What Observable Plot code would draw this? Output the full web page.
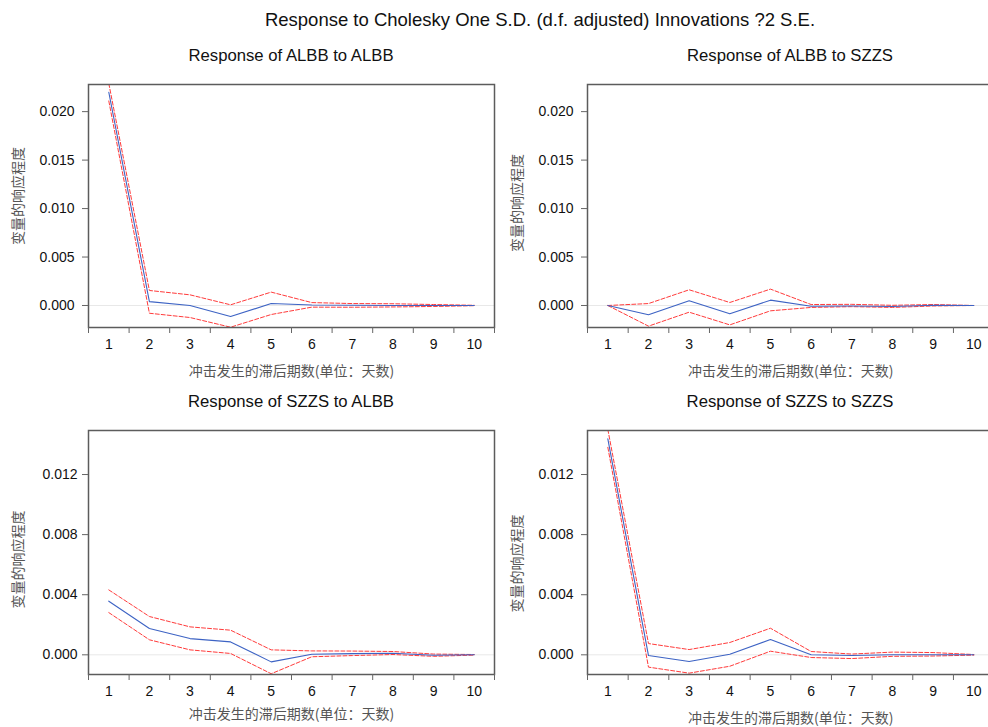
<!DOCTYPE html>
<html><head><meta charset="utf-8">
<script src="https://cdn.jsdelivr.net/npm/d3@7"></script>
<script src="https://cdn.jsdelivr.net/npm/@observablehq/plot@0.6"></script>
<style>
html,body{margin:0;padding:0;background:#fff;overflow:hidden}
#chart{position:relative;width:988px;height:727px;overflow:hidden;font-family:"Liberation Sans",Arial,sans-serif;background:#fff}
.title{position:absolute;white-space:nowrap;transform:translateX(-50%);color:#111;line-height:20px}
.panel{position:absolute}
</style></head><body><div id="chart"></div>
<script>
// ---- data ----
const periods = [1, 2, 3, 4, 5, 6, 7, 8, 9, 10];
const boundaryTicks = [0.5, 1.5, 2.5, 3.5, 4.5, 5.5, 6.5, 7.5, 8.5, 9.5, 10.5];
const mainTitle = "Response to Cholesky One S.D. (d.f. adjusted) Innovations ?2 S.E.";
const panelTitles = ["Response of ALBB to ALBB", "Response of ALBB to SZZS", "Response of SZZS to ALBB", "Response of SZZS to SZZS"];
const xLabel = "冲击发生的滞后期数(单位：天数)";
const yLabel = "变量的响应程度";
const yTicksTop = [0, 0.005, 0.010, 0.015, 0.020];
const yTicksBottom = [0, 0.004, 0.008, 0.012];

const albbAlbb      = [0.0220, 0.0004, 0.0000, -0.00114, 0.0002, 0.00005, 0.00002, 0.0000, 0.0000, 0.0000];
const albbAlbbUpper = [0.0229, 0.00155, 0.0011, 0.00007, 0.00138, 0.0003, 0.0002, 0.00018, 0.0001, 0.00002];
const albbAlbbLower = [0.0211, -0.0008, -0.00124, -0.00224, -0.00093, -0.00017, -0.00018, -0.00015, -0.0001, -0.00002];

const albbSzzs      = [0, -0.00096, 0.00048, -0.00086, 0.00055, -0.00007, -0.00005, -0.0001, 0.00003, 0];
const albbSzzsUpper = [0, 0.0002, 0.00162, 0.00031, 0.00169, 0.0001, 0.00012, 0.00002, 0.0001, 0];
const albbSzzsLower = [0, -0.00213, -0.00069, -0.002, -0.00055, -0.0002, -0.00012, -0.0002, -0.00005, 0];

const szzsAlbb      = [0.00357, 0.00175, 0.00108, 0.00086, -0.00047, 0.00004, 0.00008, 0.0001, -0.00003, 0];
const szzsAlbbUpper = [0.00432, 0.00255, 0.00186, 0.00164, 0.00033, 0.00026, 0.00025, 0.00022, 0.00005, 0.00002];
const szzsAlbbLower = [0.00281, 0.001, 0.00033, 0.00009, -0.00126, -0.00013, -0.00005, 0.00002, -0.0001, -0.00002];

const szzsSzzs      = [0.01437, -0.00005, -0.00045, 0.00004, 0.00102, 0.0, -0.00005, 0, 0, 0];
const szzsSzzsUpper = [0.0150, 0.00075, 0.00035, 0.00082, 0.00177, 0.00022, 0.00005, 0.00018, 0.00015, 0.00002];
const szzsSzzsLower = [0.01381, -0.00082, -0.00122, -0.00076, 0.00024, -0.00018, -0.00025, -0.0001, -0.00008, -0.00002];

// ---- layout ----
const chart = document.getElementById("chart");
function addTitle(text, cx, top, size) {
  const d = document.createElement("div");
  d.className = "title";
  d.textContent = text;
  d.style.left = cx + "px";
  d.style.top = top + "px";
  d.style.fontSize = size + "px";
  chart.appendChild(d);
}

function panel(resp, upper, lower, cfg) {
  const data = periods.map((p, i) => ({period: p, value: resp[i], upper: upper[i], lower: lower[i]}));
  const plot = Plot.plot({
    width: cfg.width, height: cfg.height,
    marginTop: cfg.mt, marginRight: cfg.mr, marginBottom: cfg.mb, marginLeft: cfg.ml,
    style: {fontFamily: '"Liberation Sans", Arial, sans-serif', fontSize: "14px", color: "#111", background: "transparent", overflow: "visible"},
    x: {domain: [0.5, 10.5]},
    y: {domain: cfg.yDomain},
    marks: [
      Plot.ruleY([0], {stroke: "#e8e8e8", strokeWidth: 1}),
      Plot.line(data, {x: "period", y: "lower", stroke: "#ff3b3b", strokeWidth: 1, strokeDasharray: "4,2", clip: true}),
      Plot.line(data, {x: "period", y: "upper", stroke: "#ff3b3b", strokeWidth: 1, strokeDasharray: "4,2", clip: true}),
      Plot.line(data, {x: "period", y: "value", stroke: "#3d63c4", strokeWidth: 1.1, clip: true}),
      Plot.frame({stroke: "#5c5c5c", strokeWidth: 1.5}),
      Plot.axisX({ticks: boundaryTicks, tickSize: 6, tickFormat: () => "", stroke: "#666", label: null}),
      Plot.axisX({ticks: periods, tickSize: 0, tickPadding: 12, tickFormat: d => String(d), fill: "#111", label: null}),
      Plot.axisY({ticks: cfg.yTicks, tickSize: 6, tickPadding: cfg.yPad, tickFormat: d3.format(".3f"), stroke: "#666", fill: "#111", label: null}),
      Plot.text([xLabel], {text: d => d, frameAnchor: "bottom", lineAnchor: "middle", dy: cfg.xlDy, fontSize: 14, fill: "#555", fontFamily: '"Noto Sans CJK SC", sans-serif'}),
      Plot.text([yLabel], {text: d => d, frameAnchor: "left", textAnchor: "middle", lineAnchor: "middle", rotate: -90, dx: -70, dy: cfg.ylDy, fontSize: 14, fill: "#555", fontFamily: '"Noto Sans CJK SC", sans-serif'})
    ]
  });
  plot.classList.add("panel");
  plot.style.left = cfg.left + "px";
  plot.style.top = cfg.top + "px";
  chart.appendChild(plot);
}

addTitle(mainTitle, 540, 10, 18.5);
addTitle(panelTitles[0], 291, 46, 16.7);
addTitle(panelTitles[1], 790, 46, 16.7);
addTitle(panelTitles[2], 291, 392, 16.7);
addTitle(panelTitles[3], 790, 392, 16.7);

const topDomain = [-0.00227, 0.0228];
const bottomDomain = [-0.00131, 0.01493];

panel(albbAlbb, albbAlbbUpper, albbAlbbLower, {left: 0, top: 70, width: 500, height: 312, mt: 14, mr: 6, mb: 55, ml: 88, yDomain: topDomain, yTicks: yTicksTop, yPad: 8, xlDy: 44, ylDy: -10});
panel(albbSzzs, albbSzzsUpper, albbSzzsLower, {left: 500, top: 70, width: 500, height: 312, mt: 14, mr: 6.4, mb: 55, ml: 87, yDomain: topDomain, yTicks: yTicksTop, yPad: 8, xlDy: 44, ylDy: -3});
panel(szzsAlbb, szzsAlbbUpper, szzsAlbbLower, {left: 0, top: 410, width: 500, height: 317, mt: 20, mr: 6, mb: 53, ml: 88, yDomain: bottomDomain, yTicks: yTicksBottom, yPad: 5, xlDy: 40, ylDy: 7});
panel(szzsSzzs, szzsSzzsUpper, szzsSzzsLower, {left: 500, top: 410, width: 500, height: 317, mt: 20, mr: 6.4, mb: 53, ml: 87, yDomain: bottomDomain, yTicks: yTicksBottom, yPad: 8, xlDy: 44, ylDy: 11});
</script>
</body></html>
